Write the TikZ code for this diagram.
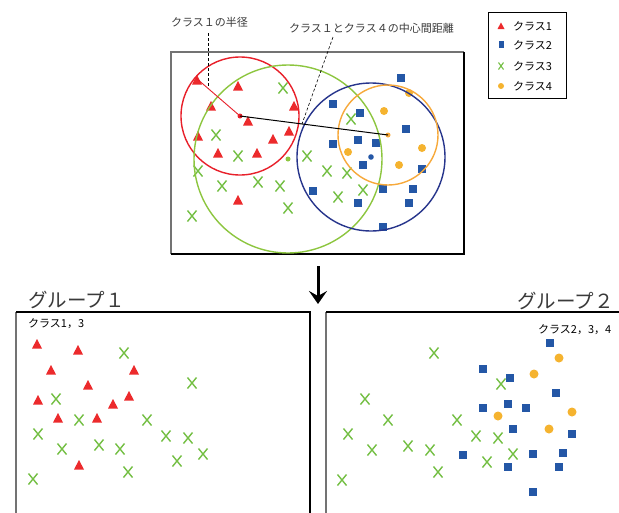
\documentclass[tikz,border=0pt]{standalone}
\usepackage{fontspec}
\setmainfont{Noto Sans CJK JP}
\usetikzlibrary{arrows.meta}
\definecolor{cred}{HTML}{EC2A2C}
\definecolor{cblue}{HTML}{2457A6}
\definecolor{cgreen}{HTML}{74BF44}
\definecolor{corange}{HTML}{F5B32F}
\definecolor{credc}{HTML}{E8202A}
\definecolor{cgreenc}{HTML}{8DC63F}
\definecolor{cbluec}{HTML}{27358C}
\definecolor{corangec}{HTML}{F7A93B}
\definecolor{ctext}{HTML}{3A3A3A}
\tikzset{
  lbl/.style={font=\fontsize{11}{13}\selectfont, text=ctext, inner sep=0pt, anchor=west},
  ttl/.style={font=\fontsize{19.5}{22}\selectfont, text=ctext, inner sep=0pt, anchor=west},
  xmark/.style={draw=cgreen, line width=1.4pt},
  dashline/.style={densely dashed, line width=0.6pt, black},
}
\newcommand{\mytri}[2]{\fill[cred] (#1-5,#2+4.5) -- (#1+5,#2+4.5) -- (#1,#2-5) -- cycle;}
\newcommand{\mysq}[2]{\fill[cblue] (#1-4,#2-4) rectangle (#1+4,#2+4);}
\newcommand{\mycr}[2]{\draw[xmark] (#1-4.5,#2-5.5) -- (#1+4.5,#2+5.5) (#1-4.5,#2+5.5) -- (#1+4.5,#2-5.5);}
\newcommand{\mydot}[2]{\fill[corange] (#1,#2) circle (4.5);}
\begin{document}
\begin{tikzpicture}[x=1pt,y=-1pt]
\clip (0,0) rectangle (619,512);
\fill[white] (0,0) rectangle (619,512);

% ---------- top box ----------
\draw[black!55, line width=1.6pt] (171,254) -- (171,52) -- (464,52);
\draw[black, line width=1.2pt] (464,52) -- (464,254) -- (171,254);

% centers
\coordinate (rc) at (240,116);
\coordinate (gc) at (288,159);
\coordinate (bc) at (371,157);
\coordinate (oc) at (388,135);
\coordinate (rr) at (196,78);

% points in top box
\foreach \x/\y in {197/80,238/86,211/106,294/106,248/121,289/131,198/136,273/139,218/153,257/153,238/200}{\mytri{\x}{\y}}
\foreach \x/\y in {283/88,216/135,238/156,307/156,198/171,222/186,258/182,280/186,288/208,192/216,351/119,327/171,347/173,363/190,338/197}{\mycr{\x}{\y}}
\foreach \x/\y in {401/78,333/104,360/113,406/129,358/140,376/143,333/144,363/165,422/169,313/191,383/189,413/189,358/203,409/203,383/227}{\mysq{\x}{\y}}
\foreach \x/\y in {384/111,409/93,422/148,348/152,399/165}{\fill[corange] (\x,\y) circle (4);}

% circles
\draw[credc, line width=1.4pt] (rc) circle (59);
\draw[cgreenc, line width=1.4pt] (gc) circle (94);
\draw[cbluec, line width=1.4pt] (bc) circle (74);
\draw[corangec, line width=1.4pt] (oc) circle (50);

% center dots
\fill[credc] (rc) circle (2.5);
\fill[cgreenc] (gc) circle (2.5);
\fill[cblue] (bc) circle (2.8);
\fill[corangec] (oc) circle (2.5);

% lines
\draw[credc, line width=0.9pt] (rc) -- (rr);
\draw[black, line width=1pt] (rc) -- (oc);

% labels
\node[lbl] (l1) at (171,22) {クラス１の半径};
\node[lbl] (l2) at (289,28) {クラス１とクラス４の中心間距離};
\coordinate (d1a) at (208,33);
\coordinate (d1b) at (208,88);
\coordinate (d2a) at (333,37);
\coordinate (d2b) at (302,124);
\draw[dashline] (d1a) -- (d1b);
\draw[dashline] (d2a) -- (d2b);

% ---------- legend ----------
\node[draw=black, line width=1pt, minimum width=78pt, minimum height=86pt, inner sep=0pt, anchor=north west] (leg) at (488,12) {};
\fill[cred] (497.5,29) -- (504.5,29) -- (501,22.5) -- cycle;
\fill[cblue] (498.5,40.5) rectangle (503.5,47.5);
\draw[draw=cgreen, line width=1.1pt] (498.5,62.5) -- (503.5,69.5) (498.5,69.5) -- (503.5,62.5);
\fill[corange] (501,86) circle (3);
\node[lbl, text=black] (t1) at (513,26) {クラス1};
\node[lbl, text=black] (t2) at (513,45) {クラス2};
\node[lbl, text=black] (t3) at (513,66) {クラス3};
\node[lbl, text=black] (t4) at (513,86) {クラス4};

% ---------- arrow ----------
\coordinate (aa) at (318,266);
\coordinate (ab) at (318,304);
\draw[black, line width=3pt, -{Stealth[length=13pt, width=18pt, inset=5pt]}] (aa) -- (ab);

% ---------- group 1 ----------
\node[ttl] (g1) at (28,300) {グループ１};
\draw[black!55, line width=1.6pt] (16,520) -- (16,312);
\draw[black, line width=1.1pt] (16,312) -- (310,312) -- (310,520);
\node[lbl, text=black] (g1s) at (28,324) {クラス1，3};
\foreach \x/\y in {37/344,78/350,51/370,134/370,88/385,129/396,38/400,113/404,58/418,97/418,79/465}{\mytri{\x}{\y}}
\foreach \x/\y in {124/353,192/383,56/399,79/420,147/420,38/434,166/436,188/438,62/449,99/445,120/449,203/454,177/461,128/472,33/479}{\mycr{\x}{\y}}

% ---------- group 2 ----------
\node[ttl] (g2) at (517,301) {グループ２};
\draw[black!55, line width=1.6pt] (326,520) -- (326,312);
\draw[black, line width=1.1pt] (326,312) -- (625,312);
\node[lbl, text=black] (g2s) at (538,330) {クラス2，3，4};
\foreach \x/\y in {434/353,365/399,388/420,457/420,348/434,476/436,498/438,501/384,372/450,408/446,430/450,513/454,487/462,438/472,342/480}{\mycr{\x}{\y}}
\foreach \x/\y in {550/343,483/369,510/378,556/393,508/404,526/408,483/408,513/429,572/434,463/455,533/454,563/453,508/467,559/467,533/492}{\mysq{\x}{\y}}
\foreach \x/\y in {559/358,534/374,572/412,498/416,549/429}{\mydot{\x}{\y}}
\end{tikzpicture}
\end{document}
